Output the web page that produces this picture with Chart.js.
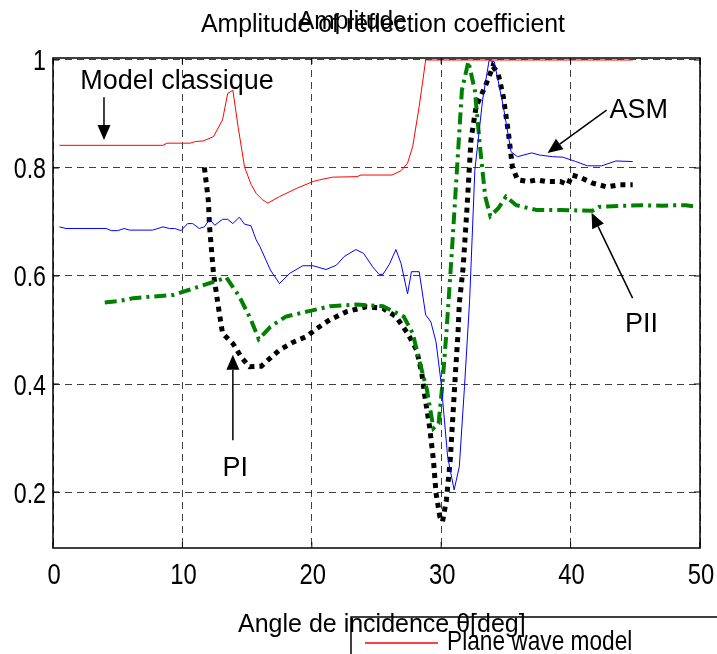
<!DOCTYPE html>
<html>
<head>
    <title>Amplitude of reflection coefficient</title>
    <script src="https://cdn.jsdelivr.net/npm/chart.js"></script>
    <style>
        body { margin: 0; background: #fff; }
        canvas { display: block; }
    </style>
</head>
<body>
    <canvas id="ampChart" width="717" height="654"></canvas>
    <script type="text/javascript">
        // axis ticks
        var xTicks = [0, 10, 20, 30, 40, 50];
        var xTickLabels = ['0', '10', '20', '30', '40', '50'];
        var yTicks = [0.2, 0.4, 0.6, 0.8, 1];
        var yTickLabels = ['0.2', '0.4', '0.6', '0.8', '1'];

        // Model classique / plane wave model (red)
        var classicAngle = [0.5, 8.5, 8.8, 10.6, 11.0, 11.6, 12.4, 13.1, 13.5, 13.9, 14.3, 14.8, 15.3, 15.7, 16.2, 16.6, 17.5, 18.8, 20.1, 20.6, 21.6, 23.5, 23.8, 26.2, 26.9, 27.4, 27.8, 28.3, 28.8, 44.8];
        var classicAmp = [0.842, 0.842, 0.846, 0.846, 0.849, 0.850, 0.858, 0.889, 0.938, 0.944, 0.877, 0.802, 0.770, 0.753, 0.741, 0.735, 0.747, 0.762, 0.775, 0.778, 0.783, 0.784, 0.787, 0.787, 0.795, 0.809, 0.840, 0.914, 1.0, 1.0];

        // ASM (blue)
        var asmAngle = [0.5, 1.0, 4.1, 4.5, 5.0, 5.5, 5.9, 7.7, 8.5, 9.0, 9.4, 9.9, 10.4, 10.8, 11.3, 11.7, 12.1, 12.5, 13.1, 13.5, 13.9, 14.4, 14.8, 15.3, 15.7, 16.0, 16.8, 17.5, 18.3, 19.3, 20.1, 21.1, 21.9, 22.5, 23.4, 24.0, 24.7, 25.2, 25.5, 26.0, 26.5, 26.9, 27.4, 27.7, 28.3, 28.8, 29.2, 29.6, 30.0, 30.5, 31.0, 31.4, 31.8, 32.2, 32.6, 33.2, 33.7, 34.1, 34.8, 35.4, 35.9, 37.0, 37.6, 38.6, 39.4, 40.4, 41.3, 42.4, 43.5, 44.8];
        var asmAmp = [0.691, 0.688, 0.688, 0.684, 0.684, 0.688, 0.685, 0.685, 0.691, 0.688, 0.688, 0.684, 0.697, 0.697, 0.688, 0.691, 0.705, 0.694, 0.705, 0.705, 0.697, 0.709, 0.696, 0.693, 0.667, 0.654, 0.611, 0.586, 0.605, 0.619, 0.619, 0.612, 0.620, 0.636, 0.649, 0.642, 0.617, 0.603, 0.603, 0.622, 0.649, 0.623, 0.567, 0.608, 0.608, 0.528, 0.515, 0.478, 0.401, 0.265, 0.204, 0.247, 0.395, 0.556, 0.796, 0.926, 0.999, 0.997, 0.914, 0.830, 0.821, 0.828, 0.824, 0.821, 0.820, 0.812, 0.804, 0.804, 0.813, 0.812];

        // PII (green dash-dot)
        var piiAngle = [4.0, 5.2, 6.2, 7.7, 9.3, 10.6, 12.4, 13.4, 14.4, 15.3, 15.9, 16.8, 18.0, 19.8, 21.4, 23.5, 25.5, 27.1, 27.8, 28.3, 28.9, 29.4, 29.8, 30.1, 30.4, 30.8, 31.2, 31.6, 32.1, 32.6, 33.0, 33.4, 33.8, 34.4, 35.0, 35.8, 37.4, 39.2, 41.7, 42.2, 44.0, 45.6, 47.1, 47.9, 48.9, 49.8];
        var piiAmp = [0.551, 0.554, 0.559, 0.562, 0.565, 0.575, 0.589, 0.597, 0.562, 0.519, 0.483, 0.506, 0.525, 0.535, 0.544, 0.547, 0.544, 0.525, 0.494, 0.444, 0.389, 0.318, 0.327, 0.401, 0.494, 0.636, 0.790, 0.944, 0.997, 0.944, 0.839, 0.747, 0.711, 0.725, 0.747, 0.731, 0.722, 0.722, 0.721, 0.728, 0.730, 0.731, 0.730, 0.731, 0.731, 0.728];

        // PI (black dotted)
        var piAngle = [11.7, 12.0, 12.1, 12.4, 12.8, 13.1, 13.9, 14.6, 15.2, 16.1, 16.6, 17.5, 18.6, 19.6, 20.4, 21.4, 22.7, 24.2, 25.5, 26.5, 27.4, 28.1, 28.5, 28.7, 29.1, 29.4, 29.6, 29.9, 30.1, 30.4, 30.7, 30.9, 31.1, 31.3, 31.4, 31.7, 32.0, 32.3, 32.7, 33.4, 34.0, 34.4, 34.8, 35.2, 35.5, 35.9, 36.7, 37.4, 38.1, 39.2, 39.8, 40.1, 40.7, 41.7, 42.8, 43.8, 44.8];
        var piAmp = [0.801, 0.741, 0.691, 0.605, 0.540, 0.494, 0.475, 0.448, 0.432, 0.433, 0.444, 0.463, 0.478, 0.488, 0.503, 0.519, 0.534, 0.543, 0.540, 0.525, 0.494, 0.463, 0.420, 0.383, 0.321, 0.259, 0.198, 0.154, 0.145, 0.185, 0.259, 0.339, 0.420, 0.494, 0.549, 0.617, 0.728, 0.852, 0.914, 0.951, 0.988, 0.975, 0.932, 0.864, 0.802, 0.778, 0.775, 0.778, 0.775, 0.775, 0.769, 0.787, 0.783, 0.772, 0.765, 0.769, 0.769];

        // annotation labels and arrows, in data units
        var notes = [
            { text: 'Model classique', x: 2.1, y: 0.946, from: [3.94, 0.931], to: [3.94, 0.852] },
            { text: 'ASM', x: 43.0, y: 0.893, from: [42.78, 0.907], to: [38.22, 0.828] },
            { text: 'PII', x: 44.2, y: 0.496, from: [44.79, 0.559], to: [41.62, 0.717] },
            { text: 'PI', x: 13.1, y: 0.230, from: [13.9, 0.296], to: [13.9, 0.454] }
        ];

        function toPoints(xs, ys) {
            return xs.map(function(x, i) { return { x: x, y: ys[i] }; });
        }

        var FONT = '"Liberation Sans", Arial, sans-serif';

        function txt(ctx, s, x, y, size, sx, align) {
            ctx.save();
            ctx.font = size + 'px ' + FONT;
            ctx.fillStyle = '#000';
            ctx.textAlign = align || 'left';
            ctx.textBaseline = 'alphabetic';
            ctx.translate(x, y);
            ctx.scale(sx, 1);
            ctx.fillText(s, 0, 0);
            ctx.restore();
        }

        function arrow(ctx, x1, y1, x2, y2) {
            var a = Math.atan2(y2 - y1, x2 - x1);
            var len = 15, half = 6.5;
            ctx.save();
            ctx.strokeStyle = '#000';
            ctx.fillStyle = '#000';
            ctx.lineWidth = 1.5;
            ctx.beginPath();
            ctx.moveTo(x1, y1);
            ctx.lineTo(x2 - Math.cos(a) * len, y2 - Math.sin(a) * len);
            ctx.stroke();
            ctx.beginPath();
            ctx.moveTo(x2, y2);
            ctx.lineTo(x2 - Math.cos(a) * len - Math.sin(a) * half, y2 - Math.sin(a) * len + Math.cos(a) * half);
            ctx.lineTo(x2 - Math.cos(a) * len + Math.sin(a) * half, y2 - Math.sin(a) * len - Math.cos(a) * half);
            ctx.closePath();
            ctx.fill();
            ctx.restore();
        }

        var decorPlugin = {
            id: 'decor',
            afterDraw: function(chart) {
                var ctx = chart.ctx;
                var area = chart.chartArea;
                var xs = chart.scales.x, ys = chart.scales.y;

                // axes box
                ctx.save();
                ctx.strokeStyle = '#000';
                ctx.lineWidth = 1.5;
                ctx.strokeRect(area.left, area.top, area.right - area.left, area.bottom - area.top);
                // small inward ticks
                ctx.lineWidth = 1;
                ctx.beginPath();
                xTicks.forEach(function(v) {
                    var px = xs.getPixelForValue(v);
                    ctx.moveTo(px, area.bottom); ctx.lineTo(px, area.bottom - 6);
                    ctx.moveTo(px, area.top); ctx.lineTo(px, area.top + 6);
                });
                yTicks.forEach(function(v) {
                    var py = ys.getPixelForValue(v);
                    ctx.moveTo(area.left, py); ctx.lineTo(area.left + 6, py);
                    ctx.moveTo(area.right, py); ctx.lineTo(area.right - 6, py);
                });
                ctx.stroke();
                ctx.restore();

                // tick labels
                xTicks.forEach(function(v, i) {
                    txt(ctx, xTickLabels[i], xs.getPixelForValue(v) + 1, 584, 29, 0.82, 'center');
                });
                yTicks.forEach(function(v, i) {
                    txt(ctx, yTickLabels[i], 46, ys.getPixelForValue(v) + 10.5, 29, 0.8, 'right');
                });

                // annotations
                notes.forEach(function(n) {
                    txt(ctx, n.text, xs.getPixelForValue(n.x), ys.getPixelForValue(n.y), 27, 1, 'left');
                    arrow(ctx, xs.getPixelForValue(n.from[0]), ys.getPixelForValue(n.from[1]),
                        xs.getPixelForValue(n.to[0]), ys.getPixelForValue(n.to[1]));
                });

                // titles
                txt(ctx, 'Amplitude of reflection coefficient', 201, 32, 26, 0.955, 'left');
                txt(ctx, 'Amplitude', 298, 29, 26, 0.94, 'left');

                // legend box (cut by the page edge)
                var ds = chart.data.datasets[0];
                ctx.save();
                ctx.strokeStyle = '#000';
                ctx.lineWidth = 1.5;
                ctx.strokeRect(351, 617, 400, 100);
                ctx.strokeStyle = ds.borderColor;
                ctx.lineWidth = 1.5;
                ctx.beginPath();
                ctx.moveTo(365, 643);
                ctx.lineTo(438, 643);
                ctx.stroke();
                ctx.restore();
                txt(ctx, ds.label, 447, 650, 28, 0.81, 'left');

                txt(ctx, 'Angle de incidence \u03b8[deg]', 238, 632, 25, 1, 'left');
            }
        };

        var ctx = document.getElementById('ampChart').getContext('2d');
        var chart = new Chart(ctx, {
            type: 'line',
            data: {
                datasets: [{
                    label: 'Plane wave model',
                    data: toPoints(classicAngle, classicAmp),
                    borderColor: '#ff0000',
                    borderWidth: 1,
                    pointRadius: 0,
                    tension: 0,
                    fill: false
                }, {
                    label: 'ASM',
                    data: toPoints(asmAngle, asmAmp),
                    borderColor: '#0000ff',
                    borderWidth: 1,
                    pointRadius: 0,
                    tension: 0,
                    fill: false
                }, {
                    label: 'PII',
                    data: toPoints(piiAngle, piiAmp),
                    borderColor: '#008000',
                    borderWidth: 4,
                    borderDash: [12, 5, 3, 5],
                    pointRadius: 0,
                    tension: 0,
                    fill: false
                }, {
                    label: 'PI',
                    data: toPoints(piAngle, piAmp),
                    borderColor: '#000000',
                    borderWidth: 5,
                    borderDash: [5, 5],
                    borderCapStyle: 'butt',
                    pointRadius: 0,
                    tension: 0,
                    fill: false
                }]
            },
            options: {
                responsive: false,
                animation: false,
                devicePixelRatio: 1,
                layout: { padding: { top: 58, right: 17, left: 0, bottom: 0 } },
                plugins: {
                    legend: { display: false },
                    title: { display: false },
                    tooltip: { enabled: false }
                },
                scales: {
                    x: {
                        type: 'linear',
                        min: 0,
                        max: 50,
                        afterBuildTicks: function(s) { s.ticks = xTicks.map(function(v) { return { value: v }; }); },
                        afterFit: function(s) { s.height = 106; },
                        ticks: { display: false },
                        grid: { color: 'rgba(0,0,0,0.75)', lineWidth: 1, drawTicks: false },
                        border: { display: false, dash: [7, 5] }
                    },
                    y: {
                        type: 'linear',
                        min: 0.0963,
                        max: 1.0037,
                        afterBuildTicks: function(s) { s.ticks = yTicks.map(function(v) { return { value: v }; }); },
                        afterFit: function(s) { s.width = 53; },
                        ticks: { display: false },
                        grid: { color: 'rgba(0,0,0,0.75)', lineWidth: 1, drawTicks: false },
                        border: { display: false, dash: [7, 5] }
                    }
                }
            },
            plugins: [decorPlugin]
        });
    </script>
</body>
</html>
